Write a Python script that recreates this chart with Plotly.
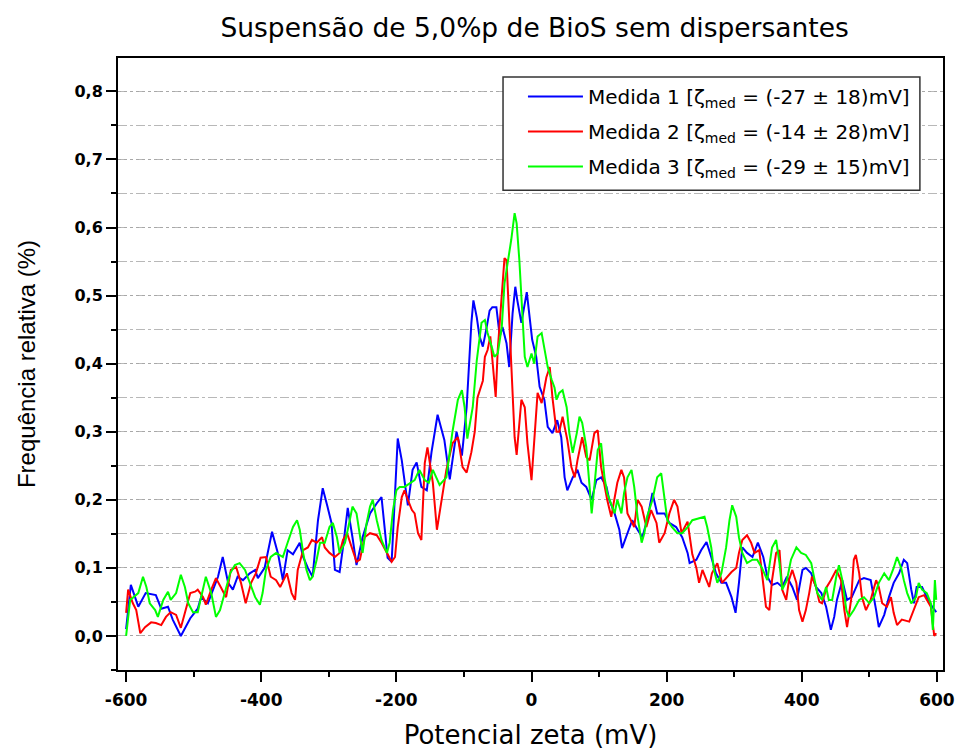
import plotly.graph_objects as go

# Zeta-potential distributions: (potential in mV, relative frequency in %)
medida1 = [
    (-600, 0.010), (-593, 0.075), (-582, 0.043), (-571, 0.063), (-556, 0.060), (-548, 0.040), (-538, 0.043),
    (-531, 0.024), (-519, 0.000), (-505, 0.026), (-494, 0.040), (-489, 0.057), (-479, 0.048), (-464, 0.087),
    (-457, 0.116), (-449, 0.078), (-442, 0.068), (-435, 0.087), (-427, 0.082), (-417, 0.092), (-409, 0.097),
    (-405, 0.085), (-395, 0.100), (-384, 0.153), (-375, 0.120), (-368, 0.082), (-361, 0.126), (-353, 0.120),
    (-343, 0.137), (-338, 0.116), (-331, 0.100), (-324, 0.087), (-316, 0.170), (-309, 0.217), (-302, 0.190),
    (-296, 0.166), (-291, 0.097), (-284, 0.094), (-279, 0.130), (-272, 0.188), (-265, 0.145), (-259, 0.104),
    (-250, 0.145), (-239, 0.180), (-229, 0.195), (-222, 0.204), (-217, 0.155), (-213, 0.115), (-207, 0.109),
    (-202, 0.219), (-198, 0.290), (-192, 0.258), (-188, 0.225), (-183, 0.192), (-176, 0.244), (-170, 0.255),
    (-163, 0.219), (-155, 0.214), (-148, 0.270), (-139, 0.325), (-129, 0.288), (-121, 0.230), (-111, 0.300),
    (-103, 0.265), (-96, 0.336), (-92, 0.420), (-89, 0.460), (-86, 0.493), (-81, 0.468), (-77, 0.440),
    (-72, 0.425), (-67, 0.450), (-62, 0.478), (-58, 0.483), (-52, 0.483), (-47, 0.440), (-43, 0.454),
    (-37, 0.430), (-33, 0.395), (-28, 0.474), (-24, 0.513), (-21, 0.493), (-15, 0.460), (-7, 0.505),
    (-3, 0.474), (1, 0.435), (7, 0.410), (12, 0.366), (19, 0.347), (24, 0.307), (31, 0.298), (38, 0.317),
    (44, 0.292), (49, 0.233), (53, 0.214), (61, 0.233), (68, 0.244), (74, 0.225), (81, 0.219), (89, 0.200),
    (96, 0.229), (103, 0.233), (111, 0.219), (115, 0.200), (123, 0.180), (130, 0.156), (134, 0.129),
    (142, 0.151), (149, 0.170), (157, 0.156), (164, 0.145), (171, 0.170), (179, 0.210), (186, 0.180),
    (197, 0.180), (204, 0.166), (214, 0.160), (223, 0.145), (231, 0.122), (234, 0.107), (244, 0.112),
    (251, 0.126), (259, 0.138), (266, 0.116), (273, 0.092), (281, 0.078), (288, 0.078), (296, 0.057),
    (302, 0.034), (307, 0.078), (312, 0.130), (319, 0.122), (327, 0.116), (335, 0.137), (343, 0.116),
    (349, 0.087), (356, 0.075), (364, 0.078), (371, 0.072), (378, 0.087), (386, 0.072), (393, 0.053),
    (401, 0.097), (406, 0.100), (414, 0.092), (421, 0.072), (429, 0.063), (436, 0.043), (443, 0.009),
    (448, 0.028), (452, 0.053), (460, 0.082), (467, 0.053), (474, 0.057), (485, 0.082), (492, 0.085),
    (502, 0.082), (510, 0.038), (514, 0.013), (522, 0.031), (529, 0.057), (536, 0.078), (544, 0.092),
    (551, 0.112), (556, 0.107), (562, 0.068), (566, 0.048), (570, 0.072), (578, 0.072), (585, 0.057),
    (593, 0.043), (599, 0.035),
]

medida2 = [
    (-600, 0.034), (-597, 0.068), (-590, 0.048), (-585, 0.038), (-579, 0.004), (-572, 0.013), (-563, 0.020),
    (-556, 0.019), (-548, 0.016), (-541, 0.028), (-534, 0.035), (-526, 0.031), (-519, 0.012), (-513, 0.034),
    (-505, 0.063), (-498, 0.065), (-494, 0.068), (-486, 0.057), (-482, 0.046), (-474, 0.068), (-467, 0.085),
    (-460, 0.072), (-452, 0.057), (-445, 0.097), (-437, 0.101), (-430, 0.078), (-423, 0.048), (-415, 0.078),
    (-408, 0.092), (-401, 0.115), (-393, 0.116), (-386, 0.087), (-378, 0.082), (-372, 0.072), (-362, 0.092),
    (-355, 0.063), (-350, 0.053), (-346, 0.097), (-338, 0.126), (-331, 0.130), (-325, 0.141), (-318, 0.137),
    (-310, 0.145), (-306, 0.130), (-299, 0.122), (-291, 0.116), (-284, 0.122), (-279, 0.141), (-273, 0.151),
    (-266, 0.130), (-259, 0.109), (-254, 0.112), (-247, 0.145), (-239, 0.151), (-229, 0.148), (-222, 0.137),
    (-214, 0.122), (-207, 0.109), (-202, 0.116), (-198, 0.160), (-192, 0.204), (-188, 0.214), (-183, 0.200),
    (-177, 0.185), (-173, 0.180), (-168, 0.151), (-163, 0.141), (-158, 0.254), (-154, 0.277), (-146, 0.225),
    (-140, 0.156), (-133, 0.200), (-126, 0.244), (-117, 0.283), (-109, 0.292), (-102, 0.248), (-96, 0.240),
    (-89, 0.270), (-84, 0.300), (-80, 0.350), (-72, 0.375), (-69, 0.410), (-65, 0.420), (-61, 0.440),
    (-58, 0.405), (-53, 0.351), (-50, 0.420), (-44, 0.508), (-40, 0.555), (-37, 0.552), (-34, 0.483),
    (-30, 0.395), (-25, 0.292), (-22, 0.266), (-15, 0.347), (-10, 0.336), (-6, 0.283), (0, 0.229),
    (4, 0.283), (9, 0.357), (15, 0.342), (22, 0.380), (27, 0.395), (31, 0.350), (37, 0.300), (41, 0.300),
    (46, 0.322), (53, 0.288), (59, 0.248), (64, 0.233), (68, 0.258), (75, 0.292), (81, 0.263), (86, 0.258),
    (93, 0.298), (98, 0.302), (103, 0.248), (108, 0.219), (112, 0.200), (118, 0.175), (123, 0.200),
    (127, 0.225), (133, 0.244), (137, 0.233), (142, 0.180), (152, 0.160), (157, 0.200), (163, 0.190),
    (170, 0.160), (177, 0.185), (185, 0.166), (189, 0.137), (197, 0.151), (204, 0.180), (211, 0.200),
    (216, 0.190), (222, 0.151), (231, 0.168), (238, 0.120), (244, 0.100), (248, 0.078), (253, 0.097),
    (259, 0.082), (263, 0.072), (267, 0.092), (275, 0.107), (282, 0.078), (290, 0.087), (296, 0.094),
    (303, 0.100), (307, 0.122), (312, 0.141), (319, 0.148), (325, 0.137), (330, 0.122), (337, 0.126),
    (341, 0.092), (347, 0.043), (352, 0.038), (356, 0.082), (362, 0.122), (367, 0.126), (371, 0.068),
    (377, 0.053), (381, 0.082), (386, 0.097), (392, 0.078), (396, 0.038), (401, 0.021), (406, 0.038),
    (411, 0.063), (415, 0.087), (421, 0.072), (426, 0.050), (430, 0.048), (437, 0.072), (443, 0.082),
    (451, 0.097), (458, 0.082), (463, 0.038), (467, 0.013), (473, 0.053), (477, 0.112), (480, 0.119),
    (485, 0.092), (489, 0.057), (495, 0.038), (502, 0.053), (510, 0.082), (514, 0.072), (519, 0.048),
    (526, 0.043), (532, 0.057), (536, 0.034), (541, 0.016), (548, 0.024), (559, 0.021), (566, 0.038),
    (573, 0.057), (581, 0.060), (585, 0.053), (591, 0.043), (596, 0.000), (599, 0.004),
]

medida3 = [
    (-600, 0.000), (-594, 0.053), (-590, 0.056), (-582, 0.063), (-575, 0.087), (-570, 0.072), (-565, 0.048),
    (-557, 0.038), (-553, 0.028), (-545, 0.053), (-538, 0.065), (-534, 0.053), (-526, 0.063), (-519, 0.090),
    (-513, 0.072), (-508, 0.048), (-501, 0.035), (-494, 0.035), (-489, 0.057), (-482, 0.087), (-474, 0.063),
    (-467, 0.028), (-461, 0.038), (-454, 0.063), (-446, 0.092), (-439, 0.104), (-432, 0.107), (-424, 0.097),
    (-417, 0.078), (-409, 0.057), (-402, 0.046), (-398, 0.063), (-393, 0.097), (-386, 0.116), (-378, 0.122),
    (-368, 0.116), (-361, 0.137), (-353, 0.160), (-347, 0.170), (-343, 0.156), (-338, 0.122), (-333, 0.097),
    (-328, 0.082), (-324, 0.087), (-318, 0.112), (-313, 0.137), (-306, 0.137), (-299, 0.160), (-294, 0.166),
    (-288, 0.145), (-284, 0.122), (-276, 0.137), (-269, 0.170), (-265, 0.190), (-259, 0.180), (-254, 0.151),
    (-250, 0.122), (-244, 0.166), (-239, 0.190), (-235, 0.200), (-229, 0.170), (-222, 0.141), (-214, 0.122),
    (-210, 0.137), (-205, 0.185), (-200, 0.214), (-195, 0.219), (-188, 0.219), (-180, 0.225), (-173, 0.229),
    (-166, 0.244), (-158, 0.229), (-152, 0.225), (-146, 0.244), (-136, 0.222), (-126, 0.233), (-117, 0.300),
    (-109, 0.347), (-103, 0.361), (-99, 0.336), (-95, 0.290), (-87, 0.336), (-81, 0.405), (-74, 0.460),
    (-69, 0.464), (-65, 0.445), (-59, 0.425), (-55, 0.410), (-50, 0.415), (-44, 0.454), (-40, 0.518),
    (-35, 0.548), (-30, 0.582), (-25, 0.621), (-22, 0.606), (-18, 0.552), (-13, 0.454), (-10, 0.410),
    (-6, 0.395), (0, 0.415), (4, 0.400), (9, 0.440), (15, 0.445), (19, 0.425), (24, 0.395), (30, 0.376),
    (34, 0.365), (37, 0.347), (41, 0.357), (46, 0.361), (52, 0.336), (56, 0.298), (61, 0.269), (67, 0.298),
    (71, 0.322), (75, 0.313), (81, 0.278), (86, 0.219), (89, 0.180), (93, 0.219), (98, 0.273), (103, 0.283),
    (108, 0.233), (112, 0.210), (118, 0.195), (123, 0.180), (127, 0.200), (133, 0.180), (137, 0.210),
    (142, 0.233), (148, 0.244), (152, 0.219), (157, 0.175), (163, 0.137), (167, 0.151), (171, 0.175),
    (179, 0.200), (186, 0.233), (192, 0.239), (197, 0.200), (201, 0.170), (208, 0.160), (216, 0.151),
    (223, 0.151), (231, 0.160), (238, 0.170), (248, 0.173), (256, 0.175), (260, 0.160), (266, 0.130),
    (270, 0.097), (275, 0.078), (281, 0.092), (288, 0.130), (293, 0.170), (297, 0.192), (303, 0.175),
    (307, 0.145), (312, 0.122), (319, 0.107), (327, 0.112), (334, 0.112), (341, 0.100), (349, 0.082),
    (356, 0.130), (362, 0.141), (367, 0.107), (371, 0.068), (378, 0.082), (384, 0.112), (392, 0.130),
    (399, 0.122), (406, 0.119), (414, 0.107), (418, 0.087), (423, 0.063), (430, 0.053), (436, 0.072),
    (440, 0.053), (445, 0.053), (451, 0.087), (455, 0.104), (460, 0.082), (466, 0.038), (470, 0.028),
    (477, 0.038), (485, 0.053), (492, 0.057), (500, 0.048), (507, 0.057), (514, 0.078), (522, 0.092),
    (529, 0.082), (536, 0.100), (541, 0.116), (547, 0.100), (551, 0.082), (556, 0.063), (562, 0.048),
    (569, 0.057), (573, 0.078), (578, 0.068), (585, 0.063), (591, 0.048), (594, 0.009), (597, 0.082),
    (599, 0.053),
]

series_names = [
    "Medida 1 [ζ<sub>med</sub> = (-27 ± 18)mV]",
    "Medida 2 [ζ<sub>med</sub> = (-14 ± 28)mV]",
    "Medida 3 [ζ<sub>med</sub> = (-29 ± 15)mV]",
]
series_colors = ["#0000FF", "#FF0000", "#00FF00"]

x_tick_values = [-600, -400, -200, 0, 200, 400, 600]
x_tick_labels = ["-600", "-400", "-200", "0", "200", "400", "600"]
y_tick_values = [0.0, 0.1, 0.2, 0.3, 0.4, 0.5, 0.6, 0.7, 0.8]
y_tick_labels = ["0,0", "0,1", "0,2", "0,3", "0,4", "0,5", "0,6", "0,7", "0,8"]

WIDE = "DejaVu Sans, Verdana, sans-serif"
NARROW = "Liberation Sans, Arial, sans-serif"

fig = go.Figure()
for i, (data, name, color) in enumerate(zip([medida1, medida2, medida3], series_names, series_colors)):
    fig.add_trace(go.Scatter(
        x=[p[0] for p in data],
        y=[p[1] for p in data],
        mode="lines",
        name=name,
        legendgroup=f"m{i + 1}",
        line=dict(color=color, width=2),
    ))

# Legend frame, drawn as a white box with a padded left margin
fig.add_shape(
    type="rect", xref="paper", yref="paper",
    x0=0.4667, x1=0.972, y0=0.784, y1=0.969,
    fillcolor="white", line=dict(color="#333333", width=1.5),
    layer="above",
)

fig.update_layout(
    width=957,
    height=751,
    margin=dict(l=118, r=14, t=58, b=81),
    paper_bgcolor="white",
    plot_bgcolor="white",
    font=dict(family=WIDE, color="black"),
    title=dict(
        text="Suspensão de 5,0%p de BioS sem dispersantes",
        x=0.505, xref="paper", xanchor="center",
        y=1 - 28 / 751, yref="container", yanchor="middle",
        font=dict(size=26.5, family=WIDE, color="black"),
    ),
    showlegend=True,
    legend=dict(
        x=0.966, y=0.969, xanchor="right", yanchor="top",
        bgcolor="rgba(0,0,0,0)",
        borderwidth=0,
        font=dict(size=20, family=WIDE, color="black"),
        itemwidth=55,
        tracegroupgap=6,
    ),
)

fig.update_xaxes(
    range=[-612, 609],
    automargin=False,
    tickmode="array", tickvals=x_tick_values, ticktext=x_tick_labels,
    ticks="outside", ticklen=10, tickwidth=2, tickcolor="black",
    ticklabelstandoff=4,
    tickfont=dict(size=17, family=WIDE, color="black", weight="bold"),
    showline=True, linecolor="black", linewidth=2, mirror=True,
    showgrid=False, zeroline=False,
    minor=dict(dtick=100, tick0=0, ticks="outside", ticklen=5, tickwidth=2,
               tickcolor="black", showgrid=False),
    title=dict(text="Potencial zeta (mV)", standoff=16,
               font=dict(size=26, family=WIDE, color="black")),
)

fig.update_yaxes(
    range=[-0.05, 0.849],
    automargin=False,
    tickmode="array", tickvals=y_tick_values, ticktext=y_tick_labels,
    ticks="outside", ticklen=10, tickwidth=2, tickcolor="black",
    tickfont=dict(size=16, family=WIDE, color="black", weight="bold"),
    showline=True, linecolor="black", linewidth=2, mirror=True,
    showgrid=True, gridcolor="#a8a8a8", gridwidth=1, griddash="dot",
    zeroline=False,
    minor=dict(dtick=0.05, tick0=0, ticks="outside", ticklen=5, tickwidth=2,
               tickcolor="black", showgrid=True, gridcolor="#b8b8b8",
               gridwidth=1, griddash="dashdot"),
    title=dict(text="Frequência relativa (%)", standoff=32,
               font=dict(size=24, family=NARROW, color="black")),
)

fig.write_html("out.html")
